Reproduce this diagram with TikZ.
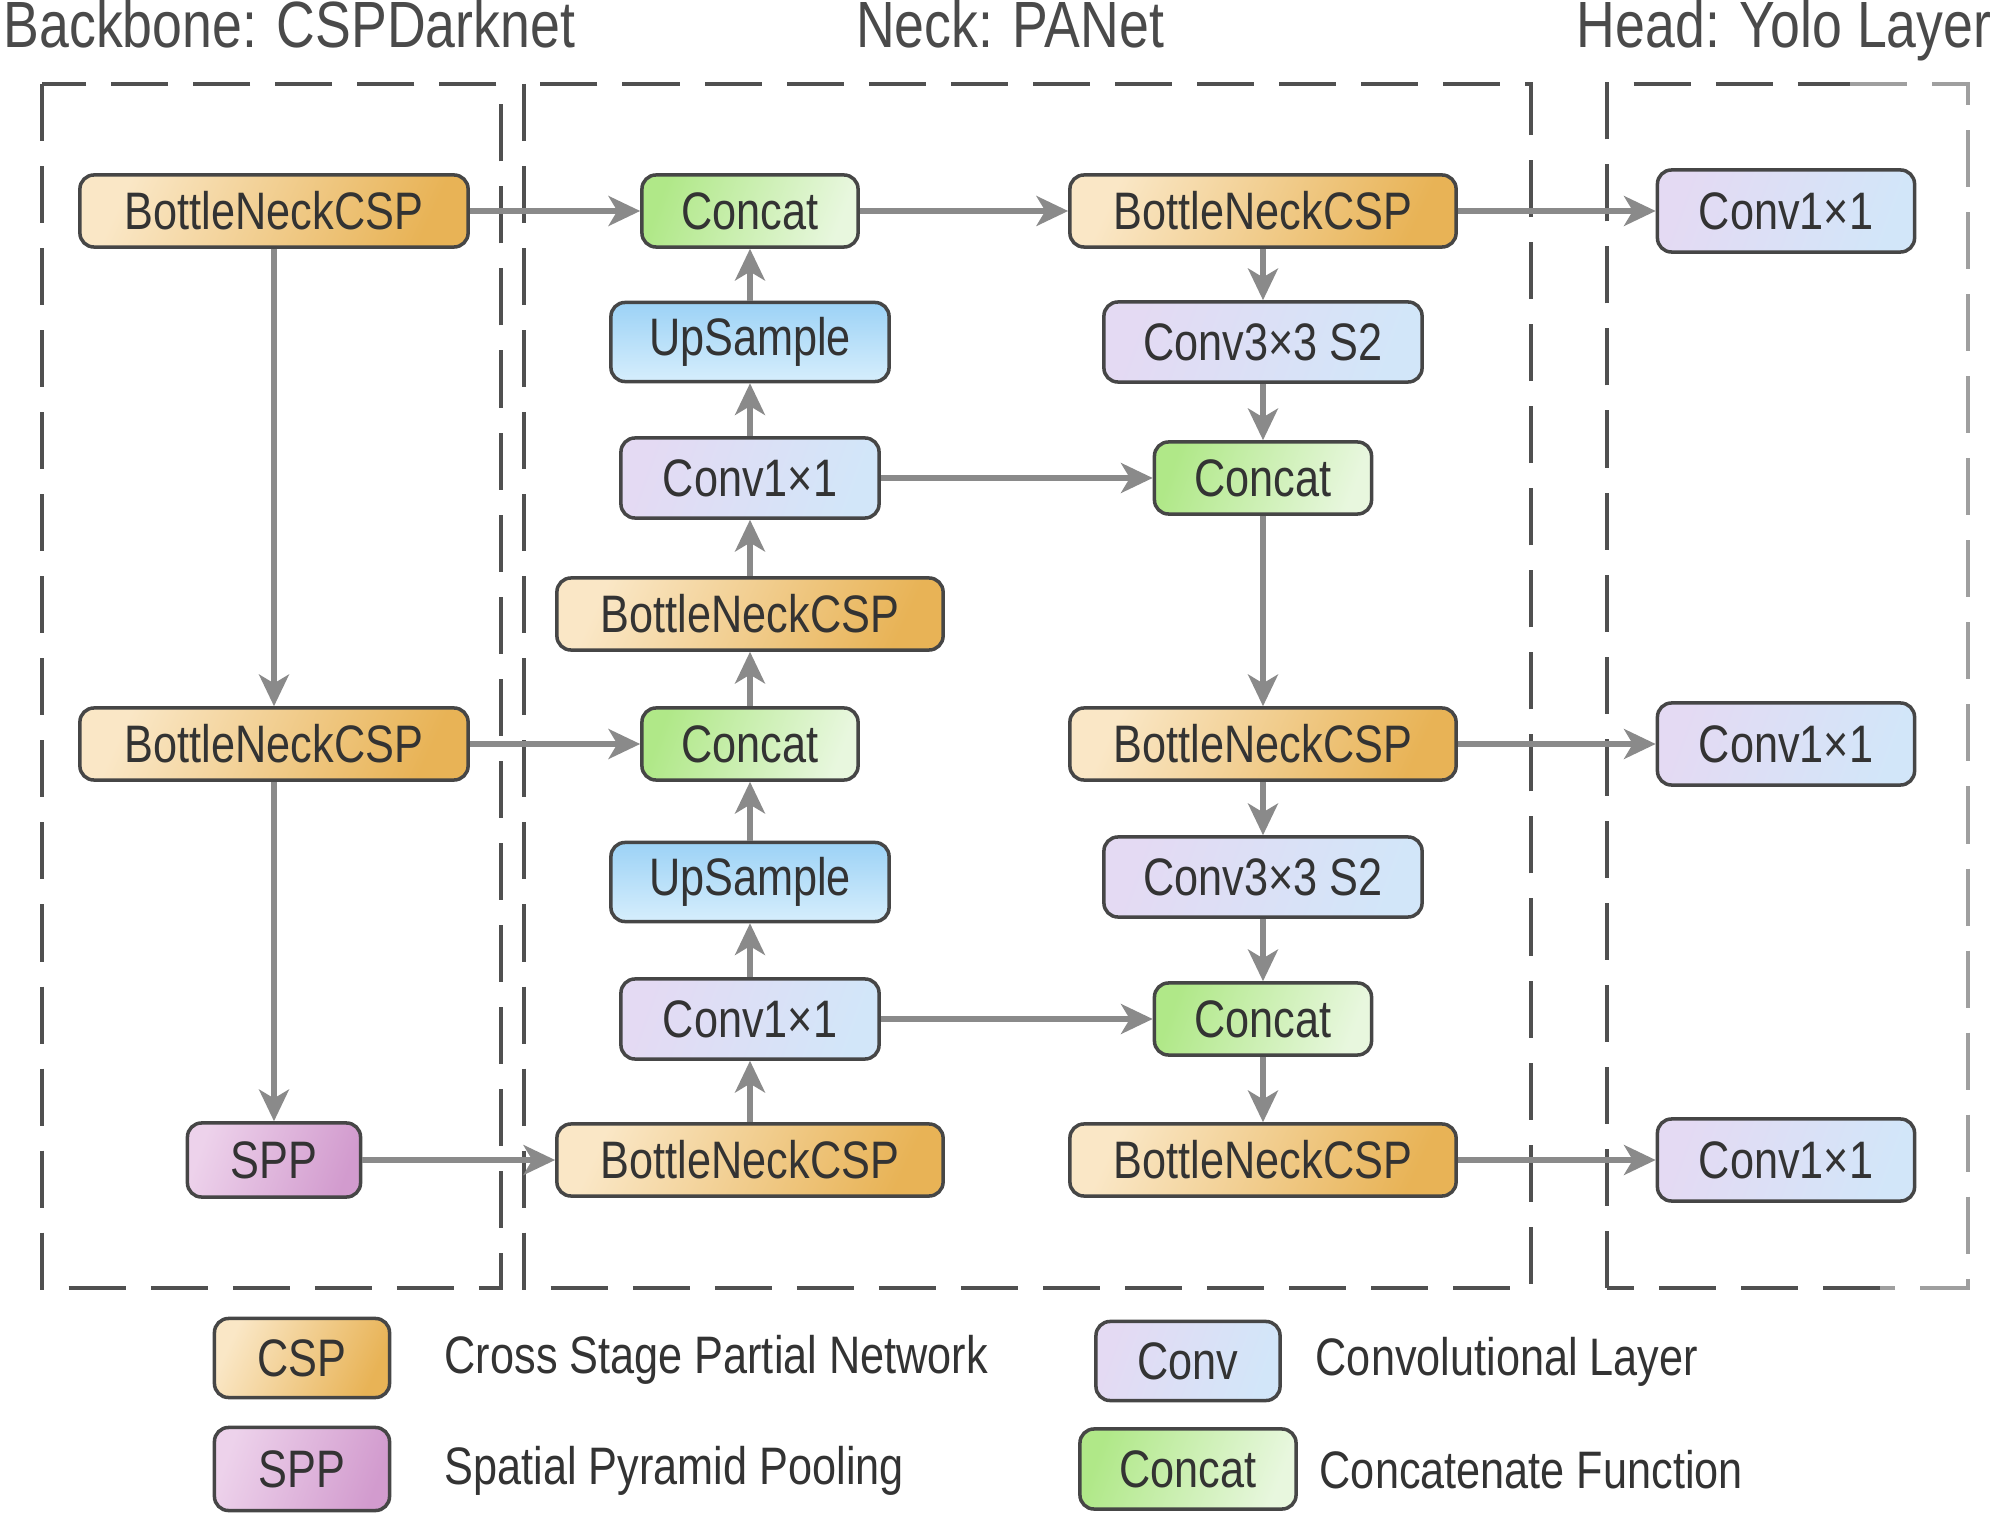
\documentclass[tikz,border=0pt]{standalone}
\usepackage{fontspec}
\setmainfont{Liberation Sans}[FakeStretch=0.82]
\usetikzlibrary{arrows.meta}
\definecolor{cspA}{HTML}{FAE7C6}
\definecolor{cspB}{HTML}{E8B356}
\definecolor{convA}{HTML}{E4DAF3}
\definecolor{convB}{HTML}{D2E6F9}
\definecolor{catA}{HTML}{B0E888}
\definecolor{catB}{HTML}{E8F7DE}
\definecolor{upA}{HTML}{9CD2F6}
\definecolor{upB}{HTML}{D6EEFC}
\definecolor{sppA}{HTML}{EDD2EB}
\definecolor{sppB}{HTML}{D29BCE}
\definecolor{bordc}{HTML}{464646}
\definecolor{arrowc}{HTML}{8A8A8A}
\definecolor{dashc}{HTML}{505050}
\definecolor{titlec}{HTML}{4A4A4A}
\begin{document}
\begin{tikzpicture}[x=0.01cm,y=-0.01cm,
  txt/.style={font=\fontsize{15}{18}\selectfont, text=black!80},
  box/.style={txt, draw=bordc, line width=1pt, rounded corners=4pt, inner sep=0pt},
  csp/.style={box, left color=cspA, right color=cspB, shading angle=65},
  conv/.style={box, left color=convA, right color=convB, shading angle=70},
  cat/.style={box, left color=catA, right color=catB, shading angle=70},
  ups/.style={box, top color=upA, bottom color=upB},
  sppb/.style={box, left color=sppA, right color=sppB, shading angle=70},
  arr/.style={draw=arrowc, line width=1.5pt, -{Stealth[length=9pt,width=8.5pt,inset=2.5pt]}},
  grp/.style={draw=dashc, line width=1.2pt, dash pattern=on 0.57cm off 0.25cm},
  ttl/.style={font=\fontsize{18.6}{22}\selectfont, text=titlec, inner sep=0pt, anchor=base}
]
\useasboundingbox (0,0) rectangle (2000,1519);

% group titles
\node[ttl, anchor=base west] (tb) at (3,48) {Backbone: CSPDarknet};
\node[ttl] (tn) at (1010,48) {Neck: PANet};
\node[ttl, anchor=base east] (th) at (1992,48) {Head: Yolo Layer};

% dashed group frames
\draw[grp] (42,84) rectangle (501,1288);
\draw[grp] (524,84) rectangle (1531,1288);
\draw[grp] (1607,1288) -- (1607,84) -- (1850,84);
\draw[grp, draw=dashc!55] (1850,84) -- (1968,84) -- (1968,1288) -- (1880,1288);
\draw[grp] (1880,1288) -- (1607,1288);

% backbone
\node[csp, minimum width=3.88cm, minimum height=0.72cm] (b1) at (274,211) {BottleNeckCSP};
\node[csp, minimum width=3.88cm, minimum height=0.72cm] (b2) at (274,744) {BottleNeckCSP};
\node[sppb, minimum width=1.73cm, minimum height=0.74cm] (spp) at (274,1160) {SPP};

% neck, left column
\node[cat, minimum width=2.16cm, minimum height=0.72cm] (c1) at (750,211) {Concat};
\node[ups, minimum width=2.78cm, minimum height=0.79cm] (up1) at (750,342) {UpSample};
\node[conv, minimum width=2.58cm, minimum height=0.80cm] (cv1) at (750,478) {Conv1×1};
\node[csp, minimum width=3.86cm, minimum height=0.72cm] (n1) at (750,614) {BottleNeckCSP};
\node[cat, minimum width=2.16cm, minimum height=0.72cm] (c2) at (750,744) {Concat};
\node[ups, minimum width=2.78cm, minimum height=0.79cm] (up2) at (750,882) {UpSample};
\node[conv, minimum width=2.58cm, minimum height=0.80cm] (cv2) at (750,1019) {Conv1×1};
\node[csp, minimum width=3.86cm, minimum height=0.72cm] (n2) at (750,1160) {BottleNeckCSP};

% neck, right column
\node[csp, minimum width=3.86cm, minimum height=0.72cm] (r1) at (1263,211) {BottleNeckCSP};
\node[conv, minimum width=3.18cm, minimum height=0.80cm] (k1) at (1263,342) {Conv3×3 S2};
\node[cat, minimum width=2.17cm, minimum height=0.72cm] (cr1) at (1263,478) {Concat};
\node[csp, minimum width=3.86cm, minimum height=0.72cm] (r2) at (1263,744) {BottleNeckCSP};
\node[conv, minimum width=3.18cm, minimum height=0.80cm] (k2) at (1263,877) {Conv3×3 S2};
\node[cat, minimum width=2.17cm, minimum height=0.72cm] (cr2) at (1263,1019) {Concat};
\node[csp, minimum width=3.86cm, minimum height=0.72cm] (r3) at (1263,1160) {BottleNeckCSP};

% head
\node[conv, minimum width=2.57cm, minimum height=0.82cm] (h1) at (1786,211) {Conv1×1};
\node[conv, minimum width=2.57cm, minimum height=0.82cm] (h2) at (1786,744) {Conv1×1};
\node[conv, minimum width=2.57cm, minimum height=0.82cm] (h3) at (1786,1160) {Conv1×1};

% connectors
\draw[arr] (b1) -- (c1);
\draw[arr] (b1) -- (b2);
\draw[arr] (b2) -- (c2);
\draw[arr] (b2) -- (spp);
\draw[arr] (spp) -- (n2);
\draw[arr] (n2) -- (cv2);
\draw[arr] (cv2) -- (up2);
\draw[arr] (up2) -- (c2);
\draw[arr] (c2) -- (n1);
\draw[arr] (n1) -- (cv1);
\draw[arr] (cv1) -- (up1);
\draw[arr] (up1) -- (c1);
\draw[arr] (c1) -- (r1);
\draw[arr] (r1) -- (k1);
\draw[arr] (k1) -- (cr1);
\draw[arr] (cv1) -- (cr1);
\draw[arr] (cr1) -- (r2);
\draw[arr] (r2) -- (k2);
\draw[arr] (k2) -- (cr2);
\draw[arr] (cv2) -- (cr2);
\draw[arr] (cr2) -- (r3);
\draw[arr] (r1) -- (h1);
\draw[arr] (r2) -- (h2);
\draw[arr] (r3) -- (h3);

% legend
\node[csp, minimum width=1.75cm, minimum height=0.79cm] (lcsp) at (302,1358) {CSP};
\node[sppb, minimum width=1.75cm, minimum height=0.83cm] (lspp) at (302,1469) {SPP};
\node[conv, minimum width=1.84cm, minimum height=0.79cm] (lconv) at (1188,1361) {Conv};
\node[cat, minimum width=2.16cm, minimum height=0.80cm] (lcat) at (1188,1469) {Concat};
\node[txt, anchor=west, inner sep=0pt] (tcsp) at (444,1360) {Cross Stage Partial Network};
\node[txt, anchor=west, inner sep=0pt] (tspp) at (444,1471) {Spatial Pyramid Pooling};
\node[txt, anchor=west, inner sep=0pt] (tconv) at (1315,1362) {Convolutional Layer};
\node[txt, anchor=west, inner sep=0pt] (tcat) at (1319,1470) {Concatenate Function};
\end{tikzpicture}
\end{document}
